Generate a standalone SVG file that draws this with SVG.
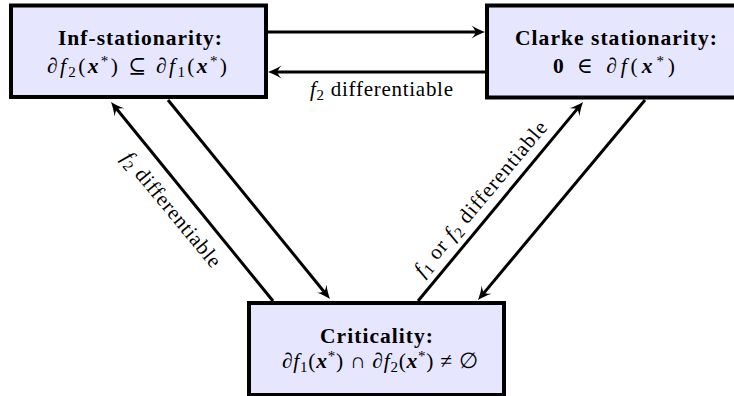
<svg xmlns="http://www.w3.org/2000/svg" width="734" height="396" viewBox="0 0 734 396">
<style>
.box{fill:#E6E6FF;stroke:#000;stroke-width:4}
.t{font-family:"Liberation Serif","DejaVu Serif",serif;font-size:21.5px;fill:#000}
.b{font-weight:bold}
.i{font-style:italic}
.bi{font-weight:bold;font-style:italic}
.s{font-size:15px}
.lbl{font-family:"Liberation Serif","DejaVu Serif",serif;font-size:21px;fill:#000}
.c{stroke:#000;stroke-width:3;fill:none;marker-end:url(#ah)}
</style>
<defs>
<marker id="ah" viewBox="-14 -7 15 14" refX="-9" refY="0" markerWidth="15" markerHeight="14" orient="auto" markerUnits="userSpaceOnUse">
<path d="M0,0 C-4,-1.5 -9,-3.5 -13.5,-6.5 Q-9.5,-2 -9.5,0 Q-9.5,2 -13.5,6.5 C-9,3.5 -4,1.5 0,0 Z" fill="#000"/>
</marker>
</defs>
<g id="inf-stationarity">
<rect class="box" x="11" y="5.5" width="255" height="91.5"/>
<text class="t b" x="140" y="45" text-anchor="middle" textLength="164" lengthAdjust="spacing">Inf-stationarity:</text>
<text class="t" x="137" y="72.5" text-anchor="middle" textLength="180" lengthAdjust="spacing">∂<tspan class="i">f</tspan><tspan class="s" dy="4">2</tspan><tspan dy="-4">(</tspan><tspan class="bi">x</tspan><tspan class="s" dy="-7">*</tspan><tspan dy="7">)  ⊆  ∂</tspan><tspan class="i">f</tspan><tspan class="s" dy="4">1</tspan><tspan dy="-4">(</tspan><tspan class="bi">x</tspan><tspan class="s" dy="-7">*</tspan><tspan dy="7">)</tspan></text>
</g>
<g id="clarke">
<rect class="box" x="487" y="5.5" width="256" height="92"/>
<text class="t b" x="616" y="45" text-anchor="middle" textLength="202" lengthAdjust="spacing">Clarke stationarity:</text>
<text class="t" x="614" y="72.5" text-anchor="middle" textLength="122" lengthAdjust="spacing"><tspan class="b">0</tspan>  ∈  ∂<tspan class="i">f</tspan>(<tspan class="bi">x</tspan><tspan class="s" dy="-7">*</tspan><tspan dy="7">)</tspan></text>
</g>
<g id="criticality">
<rect class="box" x="249" y="303" width="255" height="92"/>
<text class="t b" x="376.5" y="343" text-anchor="middle" textLength="113" lengthAdjust="spacing">Criticality:</text>
<text class="t" x="380" y="368" text-anchor="middle" textLength="196" lengthAdjust="spacing">∂<tspan class="i">f</tspan><tspan class="s" dy="4">1</tspan><tspan dy="-4">(</tspan><tspan class="bi">x</tspan><tspan class="s" dy="-7">*</tspan><tspan dy="7">) ∩ ∂</tspan><tspan class="i">f</tspan><tspan class="s" dy="4">2</tspan><tspan dy="-4">(</tspan><tspan class="bi">x</tspan><tspan class="s" dy="-7">*</tspan><tspan dy="7">)  ≠  ∅</tspan></text>
</g>
<g id="connectors">
<line class="c" x1="268" y1="32" x2="476" y2="32"/>
<line class="c" x1="485" y1="72" x2="277" y2="72"/>
<line class="c" x1="273" y1="301" x2="116.7" y2="109"/>
<line class="c" x1="168" y1="100" x2="324.3" y2="292"/>
<line class="c" x1="418" y1="301" x2="577.3" y2="108.9"/>
<line class="c" x1="645" y1="100" x2="483.8" y2="293.1"/>
<text class="lbl" x="381.5" y="96" text-anchor="middle" textLength="143" lengthAdjust="spacing"><tspan class="i">f</tspan><tspan font-size="15" dy="4">2</tspan><tspan dy="-4"> differentiable</tspan></text>
<text class="lbl" transform="translate(171,210) rotate(50.45)" x="0" y="6" text-anchor="middle" textLength="143" lengthAdjust="spacing"><tspan class="i">f</tspan><tspan font-size="15" dy="4">2</tspan><tspan dy="-4"> differentiable</tspan></text>
<text class="lbl" transform="translate(481,199) rotate(-50.1)" x="0" y="6" text-anchor="middle" textLength="195" lengthAdjust="spacing"><tspan class="i">f</tspan><tspan font-size="15" dy="4">1</tspan><tspan dy="-4"> or </tspan><tspan class="i">f</tspan><tspan font-size="15" dy="4">2</tspan><tspan dy="-4"> differentiable</tspan></text>
</g>
</svg>
